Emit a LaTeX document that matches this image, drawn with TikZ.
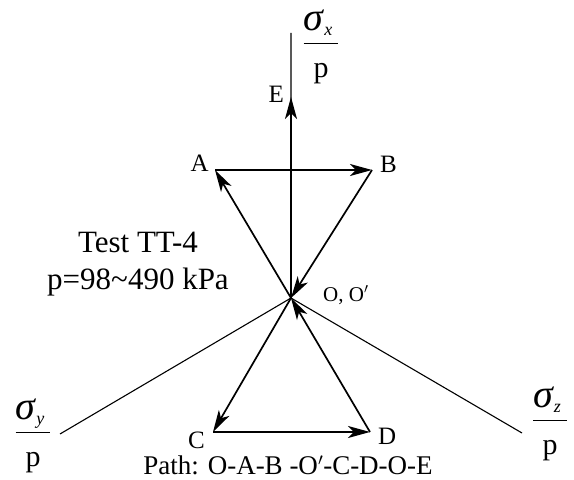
\documentclass[tikz,border=0pt]{standalone}
\usepackage{fontspec}
\setmainfont{Liberation Serif}
\usetikzlibrary{arrows.meta, positioning}

\newcommand{\stressratio}[1]{%
  $\displaystyle\frac{\raisebox{2pt}{\hbox{\fontsize{40}{44}\selectfont\itshape σ\kern1pt\raisebox{-5pt}{\fontsize{18}{20}\selectfont #1}\kern6pt}}}%
    {\raisebox{-11pt}{p}}$}

\begin{document}
\begin{tikzpicture}[
        x = 1pt, y = 1pt,
        >= {Stealth[length = 22pt, width = 12pt, inset = 6pt]},
        axis/.style = {line width = 1.1pt},
        route/.style = {->, line width = 1.7pt},
        ptlabel/.style = {font = \fontsize{25}{29}\selectfont, inner sep = 1pt},
        ratio/.style = {font = \fontsize{30}{34}\selectfont, inner sep = 0pt}
    ]
      \useasboundingbox (0,0) rectangle (574,480);

      % stress points
      \coordinate (O) at (291,182);
      \coordinate (A) at (215,310);
      \coordinate (B) at (372,310);
      \coordinate (C) at (213,48);
      \coordinate (D) at (370,48);
      \coordinate (E) at (291,383);

      % axis ends
      \coordinate (xend) at (291,447);
      \coordinate (yend) at (60,46);
      \coordinate (zend) at (522,47);

      \draw[axis] (O) -- (xend) (O) -- (yend) (O) -- (zend);

      \node[ratio] (sx) at (321,433) {\stressratio{x}};
      \node[ratio] (sy) at (33,44) {\stressratio{y}};
      \node[ratio] (sz) at (550,56) {\stressratio{z}};

      \node[ptlabel] (labA) [left = 5pt of A, yshift = 7pt] {A};
      \node[ptlabel] (labB) [right = 7pt of B, yshift = 6pt] {B};
      \node[ptlabel] (labC) [left = 7pt of C, yshift = -8pt] {C};
      \node[ptlabel] (labD) [right = 7pt of D, yshift = -4pt] {D};
      \node[ptlabel] (labE) [left = 6pt of E, yshift = 3pt] {E};
      \node[ptlabel, font = \fontsize{21}{25}\selectfont] (labO) [right = 31pt of O, yshift = 3pt] {O, O$^\prime$};

      \node[font = \fontsize{31}{37}\selectfont, align = center] (test) at (138,216)
        {Test TT-4\\p=98\textasciitilde490 kPa};
      \node[font = \fontsize{27}{32}\selectfont, anchor = base] (path) at (288,5)
        {Path: O-A-B -O$^\prime$-C-D-O-E};

      \path[route]
        (O) edge (A)
        (A) edge (B)
        (B) edge (O)
        (O) edge (C)
        (C) edge (D)
        (D) edge (O)
        (O) edge (E);
\end{tikzpicture}
\end{document}
